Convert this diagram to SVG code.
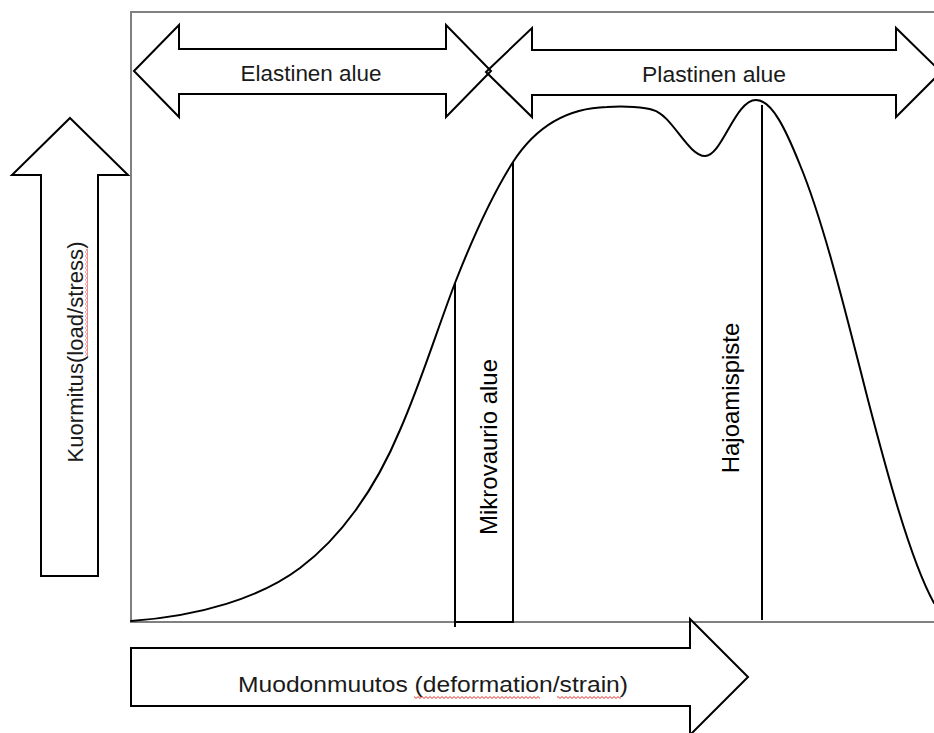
<svg xmlns="http://www.w3.org/2000/svg" width="934" height="733" viewBox="0 0 934 733">
  <defs>
    <pattern id="squiggle" patternUnits="userSpaceOnUse" width="4" height="3">
      <path d="M0,2.4 L2,0.6 L4,2.4" fill="none" stroke="#e02020" stroke-width="0.9"/>
    </pattern>
  </defs>
  <style>
    .frame { fill: none; stroke: #808080; stroke-width: 2; }
    .arrow { fill: #ffffff; stroke: #000000; stroke-width: 2; stroke-linejoin: miter; }
    .arrow-open { fill: none; stroke: #000000; stroke-width: 2; stroke-linejoin: miter; }
    .line { fill: none; stroke: #000000; stroke-width: 2; }
    .curve { fill: none; stroke: #000000; stroke-width: 2; stroke-linecap: round; }
    .cal { font-family: "Liberation Sans", Arial, sans-serif; font-size: 22px; fill: #1a1a1a; }
    .ari { font-family: "Liberation Sans", Arial, sans-serif; font-size: 24px; fill: #000000; }
  </style>
  <rect width="934" height="733" fill="#ffffff"/>

  <g id="frame">
    <path class="frame" d="M934,12 H131 V622 H934"/>
  </g>

  <g id="elastinen-arrow">
    <polygon class="arrow-open" points="134,71 179,25 179,49 446,49 446,25 491,71 446,117 446,94 179,94 179,117"/>
    <text class="cal" x="311" y="81" text-anchor="middle" textLength="141" lengthAdjust="spacingAndGlyphs">Elastinen alue</text>
  </g>

  <g id="plastinen-arrow">
    <polygon class="arrow-open" points="486,72 532,28 532,50 896,50 896,28 941,72 896,117 896,95 532,95 532,117"/>
    <text class="cal" x="714" y="82" text-anchor="middle" textLength="144" lengthAdjust="spacingAndGlyphs">Plastinen alue</text>
  </g>

  <g id="load-arrow">
    <polygon class="arrow" points="70,118 128,175 98,175 98,576 41,576 41,175 12,175"/>
    <g transform="translate(83,352) rotate(-90)">
      <text class="cal" x="0" y="0" text-anchor="middle" textLength="221" lengthAdjust="spacingAndGlyphs">Kuormitus(load/stress)</text>
      <rect x="-4" y="2" width="107" height="3" fill="url(#squiggle)"/>
    </g>
  </g>

  <g id="deformation-arrow">
    <polygon class="arrow" points="131,648 690,648 690,619 748,677 690,735 690,706 131,706"/>
    <text class="cal" x="433" y="692" text-anchor="middle" textLength="390" lengthAdjust="spacingAndGlyphs">Muodonmuutos (deformation/strain)</text>
    <rect x="414" y="696" width="126" height="3" fill="url(#squiggle)"/>
    <rect x="557" y="696" width="64" height="3" fill="url(#squiggle)"/>
  </g>

  <g id="connectors">
    <path id="stress-strain-curve" class="curve" d="M131,621 C200,616 260,598 300,568 C340,538 375,490 400,430 C420,385 437,330 455,283 C473,237 492,195 513,162 C535,128 565,108 607,107 C625,106 645,107 653,110 C672,115 688,156 705,156 C722,156 735,100 756,100 C772,100 786,130 800,165 C825,225 850,330 868,400 C885,465 910,560 934,603"/>
    <path id="mikro-left" class="line" d="M455,283 V627"/>
    <path id="mikro-right" class="line" d="M513,162 V623"/>
    <path id="mikro-base" class="line" d="M455,622 H513"/>
    <path id="hajoamis-line" class="line" d="M762,105 V620"/>
  </g>

  <g id="mikrovaurio-label">
    <text class="ari" transform="translate(497,447) rotate(-90)" x="0" y="0" text-anchor="middle">Mikrovaurio alue</text>
  </g>

  <g id="hajoamispiste-label">
    <text class="ari" transform="translate(739,398) rotate(-90)" x="0" y="0" text-anchor="middle">Hajoamispiste</text>
  </g>
</svg>
